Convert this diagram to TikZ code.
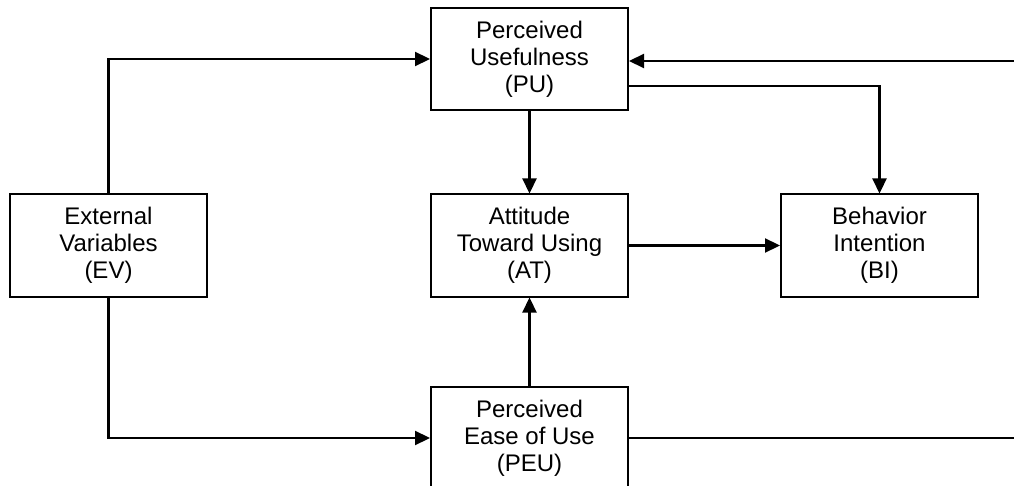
\documentclass[tikz,border=0pt]{standalone}
\usepackage{fontspec}
\setmainfont{Liberation Sans}
\usetikzlibrary{arrows.meta}
\begin{document}
\begin{tikzpicture}[x=1pt,y=-1pt,
 box/.style={draw,line width=2pt,minimum width=197pt,minimum height=102pt,align=center,
   font=\fontsize{24}{27}\selectfont,inner sep=0pt},
 arr/.style={line width=2.2pt,-{Triangle[length=15pt,width=14pt]}},
 ln/.style={line width=2.2pt}]
\useasboundingbox (0,0) rectangle (1014,486);
\node[box] (PU) at (529.5,59) {Perceived\\Usefulness\\(PU)};
\node[box] (EV) at (108.5,245.5) {External\\Variables\\(EV)};
\node[box] (AT) at (529.5,245.5) {Attitude\\Toward Using\\(AT)};
\node[box] (BI) at (879.5,245.5) {Behavior\\Intention\\(BI)};
\node[box] (PEU) at (529.5,438) {Perceived\\Ease of Use\\(PEU)};
\coordinate (R1) at (1014,61);
\coordinate (R2) at (1014,438);
\draw[arr] (EV.north) |- (PU.west);
\draw[arr] (EV.south) |- (PEU.west);
\draw[arr] (PU.south) -- (AT.north);
\draw[arr] (PEU.north) -- (AT.south);
\draw[arr] (AT.east) -- (BI.west);
\draw[arr] ([yshift=-27pt]PU.east) -| (BI.north);
\draw[arr] (R1) -- (R1 -| PU.east);
\draw[ln] (PEU.east) -- (R2);
\end{tikzpicture}
\end{document}
